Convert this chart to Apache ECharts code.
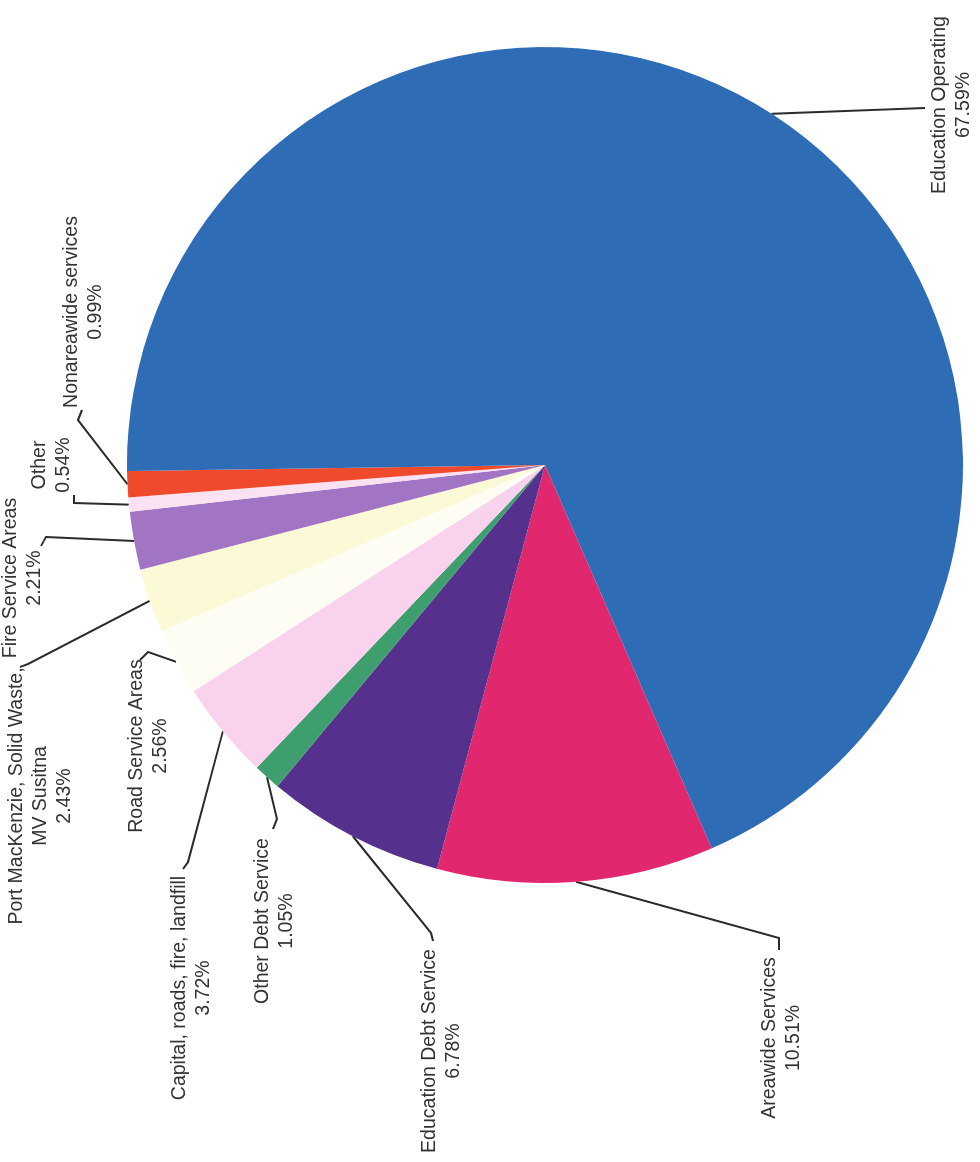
<!DOCTYPE html>
<html>
<head>
<meta charset="utf-8">
<script src="https://cdn.jsdelivr.net/npm/echarts@6.0.0/dist/echarts.min.js"></script>
<style>
  html, body { margin: 0; padding: 0; width: 980px; height: 1162px; overflow: hidden; background: #ffffff; }
  /* the chart is laid out landscape and turned a quarter turn counter-clockwise */
  #chart { position: absolute; left: 0; top: 0; width: 1162px; height: 980px;
           transform-origin: 0 0; transform: translateY(1162px) rotate(-90deg); }
</style>
</head>
<body>
<div id="chart"></div>
<script>
// Spending shares, in the order the slices run clockwise
const categories = [
  'Areawide Services',
  'Education Debt Service',
  'Other Debt Service',
  'Capital, roads, fire, landfill',
  'Road Service Areas',
  'Port MacKenzie, Solid Waste,\nMV Susitna',
  'Fire Service Areas',
  'Other',
  'Nonareawide services',
  'Education Operating'
];
const shares = [10.51, 6.78, 1.05, 3.72, 2.56, 2.43, 2.21, 0.54, 0.99, 67.59];

const palette = [
  '#e1286f', '#55308d', '#3f9e6e', '#f9d3ee', '#fefdf4',
  '#fcf9d6', '#a274c4', '#fae2f2', '#ef4a2c', '#2f6cb6'
];

// Label centres (x) and top edges (y) in the landscape frame, plus leader bend and end points
const labelSpots = [
  { x: 124,  y: 758, elbow: [224, 779], end: [212, 779] },
  { x: 111,  y: 418, elbow: [229, 431], end: [221, 433] },
  { x: 241,  y: 251, elbow: [343, 277], end: [333, 273] },
  { x: 174,  y: 168, elbow: [300, 188], end: [293, 183] },
  { x: 416,  y: 125, elbow: [510, 148], end: [502, 140] },
  { x: 366,  y: 5,   elbow: [498, 28],  end: [495, 20] },
  { x: 584,  y: -1,  elbow: [625, 46],  end: [616, 41] },
  { x: 697,  y: 28,  elbow: [659, 74],  end: [667, 74] },
  { x: 850,  y: 60,  elbow: [742, 78],  end: [752, 82] },
  { x: 1057, y: 928, elbow: [1054, 925], end: [1054, 925] }
];

const chart = echarts.init(document.getElementById('chart'), null, { renderer: 'canvas' });

chart.setOption({
  backgroundColor: '#ffffff',
  animation: false,
  series: [{
    type: 'pie',
    center: [697, 545],
    radius: [0, 418],
    startAngle: 203.5,
    clockwise: true,
    avoidLabelOverlap: false,
    data: categories.map((name, i) => ({
      name: name,
      value: shares[i],
      itemStyle: { color: palette[i] }
    })),
    itemStyle: { borderWidth: 0 },
    label: {
      show: true,
      position: 'outside',
      formatter: p => p.name + '\n' + p.value.toFixed(2) + '%',
      fontFamily: 'Liberation Sans',
      fontSize: 19.5,
      lineHeight: 24,
      color: '#333333'
    },
    labelLine: {
      show: true,
      length: 10,
      length2: 10,
      lineStyle: { color: '#2b2b2b', width: 2 }
    },
    emphasis: { disabled: true },
    labelLayout: function (p) {
      const s = labelSpots[p.dataIndex];
      const out = { x: s.x, y: s.y, align: 'center', verticalAlign: 'top' };
      if (p.labelLinePoints) {
        out.labelLinePoints = [p.labelLinePoints[0], s.elbow, s.end];
      }
      return out;
    }
  }]
});
</script>
</body>
</html>
